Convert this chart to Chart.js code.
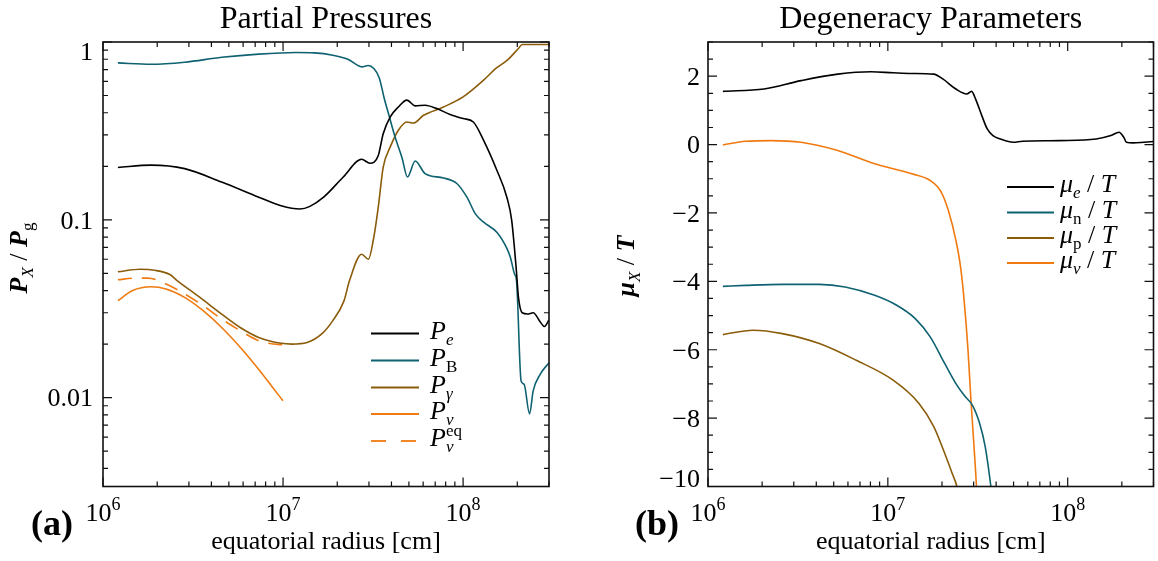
<!DOCTYPE html>
<html>
<head>
<meta charset="utf-8">
<title>Partial Pressures and Degeneracy Parameters</title>
<script src="https://cdn.jsdelivr.net/npm/chart.js@4.4.1/dist/chart.umd.min.js"></script>
<style>
  html, body { margin: 0; padding: 0; background: #ffffff; }
  #wrap { position: relative; width: 1158px; height: 561px; overflow: hidden; }
  canvas { position: absolute; top: 0; }
</style>
</head>
<body>
<div id="wrap">
  <canvas id="pressures" width="580" height="561" style="left:0px"></canvas>
  <canvas id="degeneracy" width="578" height="561" style="left:580px"></canvas>
</div>
<script>
// ---------- panel (a): partial pressures, P_X / P_g ----------
const radiusPe = [1.21e6, 1.85e6, 2.84e6, 4.56e6, 7.33e6, 9.75e6, 1.24e7, 1.41e7, 1.68e7, 2.16e7,
  2.73e7, 3.04e7, 3.38e7, 3.60e7, 3.94e7, 4.37e7, 4.87e7, 5.42e7, 6.15e7, 7.15e7,
  8.47e7, 1.00e8, 1.14e8, 1.30e8, 1.54e8, 1.75e8, 1.86e8, 1.97e8, 2.03e8, 2.13e8,
  2.28e8, 2.45e8, 2.69e8, 2.83e8, 3.00e8];
const pressureE = [0.197, 0.203, 0.194, 0.163, 0.134, 0.120, 0.115, 0.119, 0.134, 0.174,
  0.219, 0.208, 0.230, 0.305, 0.379, 0.431, 0.471, 0.437, 0.441, 0.422,
  0.391, 0.371, 0.355, 0.280, 0.190, 0.134, 0.100, 0.054, 0.0366, 0.0300,
  0.0295, 0.0300, 0.0265, 0.0251, 0.0273];

const radiusPB = [1.21e6, 1.85e6, 2.84e6, 4.56e6, 7.33e6, 1.18e7, 1.49e7, 1.89e7, 2.29e7, 2.74e7,
  2.97e7, 3.19e7, 3.42e7, 3.67e7, 3.85e7, 4.19e7, 4.57e7, 4.91e7, 5.42e7, 6.15e7,
  7.78e7, 9.23e7, 1.05e8, 1.17e8, 1.30e8, 1.54e8, 1.75e8, 1.83e8, 1.93e8, 1.98e8,
  2.10e8, 2.18e8, 2.34e8, 2.45e8, 2.69e8, 3.00e8];
const pressureB = [0.763, 0.750, 0.770, 0.820, 0.855, 0.873, 0.869, 0.843, 0.800, 0.725,
  0.738, 0.710, 0.630, 0.470, 0.396, 0.292, 0.225, 0.174, 0.214, 0.182,
  0.172, 0.160, 0.134, 0.108, 0.097, 0.085, 0.069, 0.0615, 0.0496, 0.0455,
  0.0124, 0.0119, 0.0081, 0.0109, 0.0136, 0.0157];

const radiusPgamma = [1.21e6, 1.61e6, 1.94e6, 2.35e6, 2.58e6, 3.44e6, 4.56e6, 5.78e6, 7.33e6, 9.75e6,
  1.12e7, 1.36e7, 1.64e7, 1.89e7, 2.18e7, 2.34e7, 2.73e7, 2.98e7, 3.18e7, 3.38e7,
  3.60e7, 3.94e7, 4.37e7, 4.87e7, 5.30e7, 6.03e7, 7.78e7, 1.00e8, 1.30e8, 1.52e8,
  1.76e8, 2.03e8, 2.13e8, 3.00e8];
const pressureGamma = [0.051, 0.0527, 0.052, 0.0492, 0.0455, 0.0367, 0.0295, 0.0248, 0.0218, 0.0202,
  0.0200, 0.0204, 0.0228, 0.0271, 0.035, 0.0455, 0.064, 0.060, 0.078, 0.118,
  0.198, 0.257, 0.319, 0.355, 0.350, 0.387, 0.431, 0.491, 0.610, 0.710,
  0.790, 0.920, 0.968, 0.968];

const radiusPnu = [1.21e6, 1.46e6, 1.85e6, 2.24e6, 2.84e6, 3.60e6, 4.56e6, 5.78e6, 7.33e6, 8.65e6, 9.98e6];
const pressureNu = [0.0351, 0.040, 0.042, 0.0408, 0.0366, 0.0308, 0.0248, 0.0192, 0.0144, 0.0116, 0.0096];

const radiusPnuEq = [1.21e6, 1.50e6, 1.77e6, 2.24e6, 2.84e6, 3.60e6, 4.56e6, 5.78e6, 7.33e6, 8.85e6, 9.98e6];
const pressureNuEq = [0.046, 0.047, 0.047, 0.0436, 0.0383, 0.0329, 0.0277, 0.0238, 0.0209, 0.0200, 0.0198];

// ---------- panel (b): degeneracy parameters, mu_X / T ----------
const radiusMuE = [1.21e6, 2.05e6, 3.29e6, 5.27e6, 8.07e6, 1.07e7, 1.36e7, 1.80e7, 2.02e7, 2.39e7,
  2.75e7, 2.92e7, 3.10e7, 3.33e7, 3.57e7, 3.84e7, 4.22e7, 4.97e7, 5.60e7, 8.97e7,
  1.44e8, 1.74e8, 1.93e8, 2.05e8, 2.12e8, 2.31e8, 2.66e8, 3.00e8];
const muE = [1.557, 1.625, 1.87, 2.06, 2.13, 2.10, 2.08, 2.06, 1.92, 1.625,
  1.48, 1.557, 1.285, 0.847, 0.457, 0.263, 0.165, 0.068, 0.097, 0.117,
  0.165, 0.263, 0.36, 0.214, 0.068, 0.049, 0.068, 0.088];

const radiusMuN = [1.21e6, 1.62e6, 2.59e6, 4.16e6, 5.79e6, 8.45e6, 1.12e7, 1.42e7, 1.72e7, 2.07e7,
  2.39e7, 2.69e7, 2.95e7, 3.24e7, 3.48e7, 3.74e7, 3.85e7];
const muN = [-4.146, -4.117, -4.088, -4.088, -4.165, -4.409, -4.70, -5.09, -5.625, -6.40,
  -6.99, -7.37, -7.62, -8.16, -8.84, -10.0, -10.6];

const radiusMuP = [1.21e6, 1.78e6, 2.59e6, 4.16e6, 6.68e6, 1.07e7, 1.49e7, 1.80e7, 2.07e7, 2.28e7, 2.42e7, 2.48e7];
const muP = [-5.557, -5.43, -5.528, -5.82, -6.31, -6.89, -7.57, -8.25, -9.03, -9.62, -10.0, -10.3];

const radiusMuNu = [1.21e6, 1.62e6, 2.25e6, 3.29e6, 5.27e6, 8.45e6, 1.36e7, 1.72e7, 1.98e7, 2.17e7,
  2.39e7, 2.54e7, 2.66e7, 2.79e7, 2.90e7, 3.02e7, 3.11e7, 3.16e7];
const muNu = [-0.01, 0.097, 0.117, 0.068, -0.175, -0.564, -0.856, -1.051, -1.39, -1.93,
  -2.80, -3.60, -4.60, -6.00, -7.50, -8.90, -10.0, -10.8];

// ---------- axes ----------
const radiusRange = [1e6, 3e8];
const radiusTickExponents = [6, 7, 8];
const pressureRange = [Math.pow(10, -2.5), 1];
const pressureTickValues = [1, 0.1, 0.01];
const pressureTickLabels = ['1', '0.1', '0.01'];
const degeneracyRange = [-10, 3];
const degeneracyTickValues = [2, 0, -2, -4, -6, -8, -10];
const degeneracyTickLabels = ['2', '0', '\u22122', '\u22124', '\u22126', '\u22128', '\u221210'];

// ---------- styling ----------
const SERIF = '"Liberation Serif", "Times New Roman", serif';
const INK = '#111111';
const BLACK = '#000000';
const TEAL = '#0e6271';
const BROWN = '#8b5c0a';
const ORANGE = '#f07a10';
const MAJOR_TICK = 9;
const MINOR_TICK = 5;

function series(label, xs, ys, color, dash) {
  return {
    label: label,
    data: xs.map((x, i) => ({ x: x, y: ys[i] })),
    borderColor: color,
    backgroundColor: color,
    borderWidth: 1.6,
    borderDash: dash || [],
    pointRadius: 0,
    pointHoverRadius: 0,
    cubicInterpolationMode: 'monotone',
    fill: false
  };
}

function logTicks(min, max) {
  const out = [];
  for (let d = Math.floor(Math.log10(min)); d <= Math.ceil(Math.log10(max)); d++) {
    for (let k = 1; k <= 9; k++) {
      const v = k * Math.pow(10, d);
      if (v >= min * 0.9999 && v <= max * 1.0001) out.push({ v: v, major: k === 1 });
    }
  }
  return out;
}

function linearTicks(min, max, step, majorStep) {
  const out = [];
  for (let v = min; v <= max + 1e-9; v += step) {
    const r = Math.round(v * 100) / 100;
    out.push({ v: r, major: Math.abs(r / majorStep - Math.round(r / majorStep)) < 1e-6 });
  }
  return out;
}

// rich text: a list of runs {t, font, dy, adv}
function runsWidth(ctx, runs) {
  let w = 0;
  for (const r of runs) {
    ctx.font = r.font;
    if (r.adv !== false) w += ctx.measureText(r.t).width;
  }
  return w;
}
function drawRuns(ctx, runs, x, y, align) {
  const w = runsWidth(ctx, runs);
  let cx = align === 'center' ? x - w / 2 : (align === 'right' ? x - w : x);
  for (const r of runs) {
    ctx.font = r.font;
    ctx.fillText(r.t, cx, y + (r.dy || 0));
    if (r.adv !== false) cx += ctx.measureText(r.t).width;
  }
}

function makeDecor(cfg) {
  return {
    id: 'panelDecor',
    afterDatasetsDraw(chart) {
      const ctx = chart.ctx;
      const a = chart.chartArea;
      const xs = chart.scales.x;
      const ys = chart.scales.y;
      ctx.save();
      ctx.fillStyle = BLACK;
      ctx.textBaseline = 'alphabetic';

      // tick marks pointing inward on all four sides
      ctx.strokeStyle = INK;
      ctx.lineWidth = 1.2;
      ctx.beginPath();
      for (const t of cfg.xTicks) {
        const px = xs.getPixelForValue(t.v);
        const len = t.major ? MAJOR_TICK : MINOR_TICK;
        ctx.moveTo(px, a.bottom); ctx.lineTo(px, a.bottom - len);
        ctx.moveTo(px, a.top); ctx.lineTo(px, a.top + len);
      }
      for (const t of cfg.yTicks) {
        const py = ys.getPixelForValue(t.v);
        const len = t.major ? MAJOR_TICK : MINOR_TICK;
        ctx.moveTo(a.left, py); ctx.lineTo(a.left + len, py);
        ctx.moveTo(a.right, py); ctx.lineTo(a.right - len, py);
      }
      ctx.stroke();

      // frame
      ctx.lineWidth = 1.6;
      ctx.strokeRect(a.left, a.top, a.right - a.left, a.bottom - a.top);

      // x tick labels 10^n
      ctx.fillStyle = BLACK;
      for (const e of radiusTickExponents) {
        const px = xs.getPixelForValue(Math.pow(10, e));
        drawRuns(ctx, [
          { t: '10', font: '26px ' + SERIF },
          { t: String(e), font: '18px ' + SERIF, dy: -11 }
        ], px, a.bottom + 34.5, 'center');
      }

      // y tick labels, kept inside the frame's height at the edges
      const labelSize = 26;
      const half = labelSize * 0.34;
      cfg.yTickValues.forEach((v, i) => {
        let cy = ys.getPixelForValue(v);
        cy = Math.min(Math.max(cy, a.top + half), a.bottom - half);
        drawRuns(ctx, [{ t: cfg.yTickLabels[i], font: labelSize + 'px ' + SERIF }],
          a.left - cfg.yLabelGap, cy + half, 'right');
      });

      // panel title
      const midX = (a.left + a.right) / 2;
      drawRuns(ctx, [{ t: cfg.title, font: '32px ' + SERIF }], midX, 27.5, 'center');

      // x axis title
      drawRuns(ctx, [{ t: 'equatorial radius [cm]', font: '26px ' + SERIF }], midX, a.bottom + 62, 'center');

      // panel tag
      drawRuns(ctx, [{ t: cfg.tag, font: 'bold 36px ' + SERIF }], cfg.tagX, a.bottom + 48.5, 'left');

      // rotated y axis title
      ctx.save();
      ctx.translate(cfg.yTitleX, cfg.yTitleY);
      ctx.rotate(-Math.PI / 2);
      drawRuns(ctx, cfg.yTitleRuns, 0, 8, 'center');
      ctx.restore();

      // legend
      const L = cfg.legend;
      L.rows.forEach((row, i) => {
        const ds = chart.data.datasets[i];
        ctx.strokeStyle = ds.borderColor;
        ctx.lineWidth = 1.8;
        ctx.setLineDash(row.dash || []);
        ctx.beginPath();
        ctx.moveTo(L.x0, row.y);
        ctx.lineTo(L.x1, row.y);
        ctx.stroke();
        ctx.setLineDash([]);
        ctx.fillStyle = BLACK;
        drawRuns(ctx, row.runs, L.textX, row.y + L.baseShift, 'left');
      });
      ctx.restore();
    }
  };
}

function makeChart(id, datasets, yScale, padding, decor) {
  return new Chart(document.getElementById(id), {
    type: 'line',
    data: { datasets: datasets },
    options: {
      responsive: false,
      animation: false,
      events: [],
      layout: { padding: padding },
      plugins: { legend: { display: false }, tooltip: { enabled: false }, title: { display: false } },
      scales: {
        x: { type: 'logarithmic', min: radiusRange[0], max: radiusRange[1], display: false },
        y: yScale
      }
    },
    plugins: [makeDecor(decor)]
  });
}

const LEG = 'italic 26px ' + SERIF;
const LEG_R = '26px ' + SERIF;
const SUBI = 'italic 17px ' + SERIF;
const SUBR = '17px ' + SERIF;

makeChart('pressures', [
  series('P_e', radiusPe, pressureE, BLACK),
  series('P_B', radiusPB, pressureB, TEAL),
  series('P_gamma', radiusPgamma, pressureGamma, BROWN),
  series('P_nu', radiusPnu, pressureNu, ORANGE),
  series('P_nu^eq', radiusPnuEq, pressureNuEq, ORANGE, [14, 10])
], { type: 'logarithmic', min: pressureRange[0], max: pressureRange[1], display: false },
{ left: 103, right: 31, top: 42, bottom: 74.5 },
{
  title: 'Partial Pressures',
  tag: '(a)', tagX: 31,
  xTicks: logTicks(radiusRange[0], radiusRange[1]),
  yTicks: logTicks(pressureRange[0], pressureRange[1]),
  yTickValues: pressureTickValues, yTickLabels: pressureTickLabels, yLabelGap: 10,
  yTitleX: 19, yTitleY: 258,
  yTitleRuns: [
    { t: 'P', font: 'bold italic 26px ' + SERIF },
    { t: 'X', font: 'italic 17px ' + SERIF, dy: 6 },
    { t: ' / ', font: '26px ' + SERIF },
    { t: 'P', font: 'bold italic 26px ' + SERIF },
    { t: 'g', font: '17px ' + SERIF, dy: 6 }
  ],
  legend: {
    x0: 371, x1: 419, textX: 430, baseShift: 5,
    rows: [
      { y: 333.5, runs: [{ t: 'P', font: LEG }, { t: 'e', font: SUBI, dy: 6 }] },
      { y: 360.5, runs: [{ t: 'P', font: LEG }, { t: 'B', font: SUBR, dy: 6 }] },
      { y: 387.5, runs: [{ t: 'P', font: LEG }, { t: '\u03B3', font: SUBI, dy: 6 }] },
      { y: 414, runs: [{ t: 'P', font: LEG }, { t: '\u03BD', font: SUBI, dy: 6 }] },
      { y: 441, dash: [15, 15], runs: [{ t: 'P', font: LEG }, { t: 'eq', font: SUBR, dy: -10, adv: false }, { t: '\u03BD', font: SUBI, dy: 6 }] }
    ]
  }
});

makeChart('degeneracy', [
  series('mu_e / T', radiusMuE, muE, BLACK),
  series('mu_n / T', radiusMuN, muN, TEAL),
  series('mu_p / T', radiusMuP, muP, BROWN),
  series('mu_nu / T', radiusMuNu, muNu, ORANGE)
], { type: 'linear', min: degeneracyRange[0], max: degeneracyRange[1], display: false },
{ left: 128, right: 4.5, top: 42, bottom: 74.5 },
{
  title: 'Degeneracy Parameters',
  tag: '(b)', tagX: 55,
  xTicks: logTicks(radiusRange[0], radiusRange[1]),
  yTicks: linearTicks(degeneracyRange[0], degeneracyRange[1], 0.5, 2),
  yTickValues: degeneracyTickValues, yTickLabels: degeneracyTickLabels, yLabelGap: 8,
  yTitleX: 46, yTitleY: 266,
  yTitleRuns: [
    { t: '\u03BC', font: 'bold italic 26px ' + SERIF },
    { t: 'X', font: 'italic 17px ' + SERIF, dy: 6 },
    { t: ' / ', font: '26px ' + SERIF },
    { t: 'T', font: 'bold italic 26px ' + SERIF }
  ],
  legend: {
    x0: 427, x1: 474, textX: 480, baseShift: 5,
    rows: [
      { y: 187, runs: [{ t: '\u03BC', font: LEG }, { t: 'e', font: SUBI, dy: 6 }, { t: ' / ', font: LEG_R }, { t: 'T', font: LEG }] },
      { y: 212.5, runs: [{ t: '\u03BC', font: LEG }, { t: 'n', font: SUBR, dy: 6 }, { t: ' / ', font: LEG_R }, { t: 'T', font: LEG }] },
      { y: 238, runs: [{ t: '\u03BC', font: LEG }, { t: 'p', font: SUBR, dy: 6 }, { t: ' / ', font: LEG_R }, { t: 'T', font: LEG }] },
      { y: 263, runs: [{ t: '\u03BC', font: LEG }, { t: '\u03BD', font: SUBI, dy: 6 }, { t: ' / ', font: LEG_R }, { t: 'T', font: LEG }] }
    ]
  }
});
</script>
</body>
</html>
